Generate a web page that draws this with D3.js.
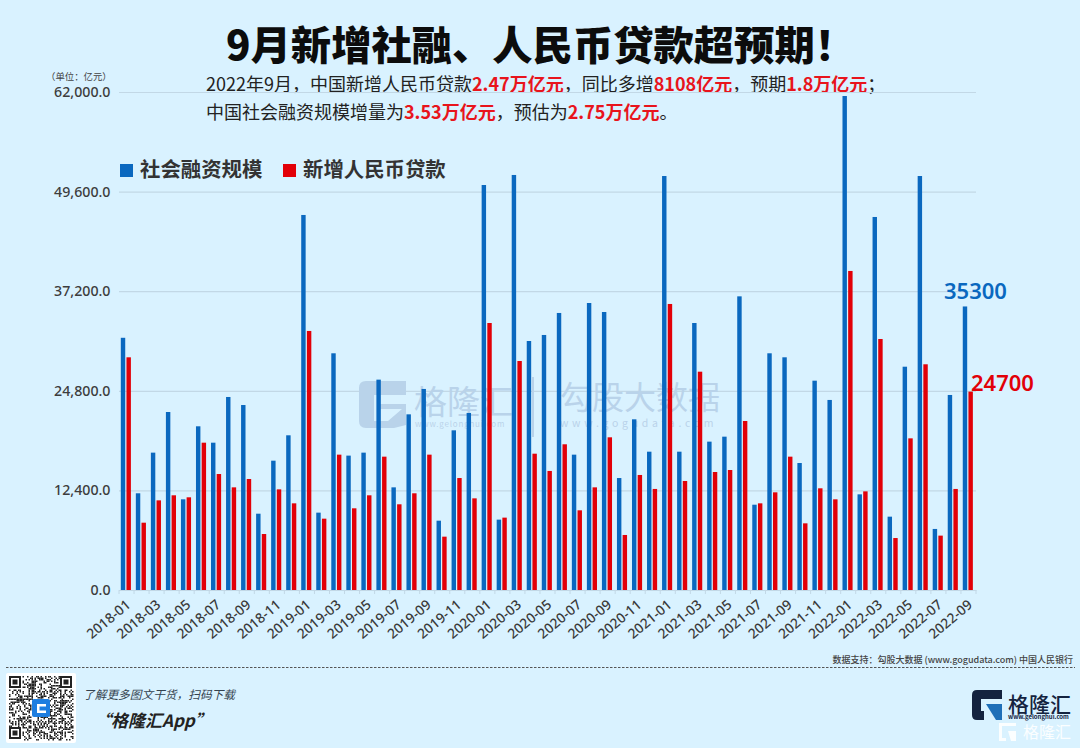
<!DOCTYPE html>
<html>
<head>
<meta charset="utf-8">
<script src="https://cdn.jsdelivr.net/npm/d3@7"></script>
<style>
html, body { margin: 0; padding: 0; background: #d9f2ff; }
svg { display: block; }
text { font-family: "Noto Sans CJK SC", "Noto Sans", sans-serif; }
.num text, text.num { font-family: "Noto Sans", "Noto Sans CJK SC", sans-serif; }
</style>
</head>
<body>
<svg id="chart" width="1080" height="748"></svg>
<script>
"use strict"

const months = [
    "2018-01","2018-02","2018-03","2018-04","2018-05","2018-06","2018-07","2018-08","2018-09","2018-10","2018-11","2018-12",
    "2019-01","2019-02","2019-03","2019-04","2019-05","2019-06","2019-07","2019-08","2019-09","2019-10","2019-11","2019-12",
    "2020-01","2020-02","2020-03","2020-04","2020-05","2020-06","2020-07","2020-08","2020-09","2020-10","2020-11","2020-12",
    "2021-01","2021-02","2021-03","2021-04","2021-05","2021-06","2021-07","2021-08","2021-09","2021-10","2021-11","2021-12",
    "2022-01","2022-02","2022-03","2022-04","2022-05","2022-06","2022-07","2022-08","2022-09"
]
const socialFinancing = [
    31400, 12040, 17100, 22160, 11290, 20380, 18340, 24030, 23030, 9500, 16100, 19260,
    46690, 9630, 29470, 16730, 17100, 26190, 12780, 21870, 25030, 8630, 19880, 22040,
    50420, 8760, 51670, 31000, 31750, 34490, 16850, 35730, 34610, 13940, 21250, 17220,
    51540, 17220, 33240, 18470, 19090, 36560, 10620, 29470, 28970, 15810, 26060, 23660,
    61500, 11910, 46440, 9130, 27800, 51540, 7600, 24280, 35300
]
const newLoans = [
    28970, 8380, 11160, 11790, 11540, 18340, 14440, 12780, 13820, 6970, 12530, 10790,
    32250, 8880, 16850, 10170, 11790, 16600, 10670, 12040, 16850, 6640, 13940, 11410,
    33240, 9010, 28510, 16970, 14820, 18140, 9920, 12780, 19010, 6850, 14320, 12580,
    35610, 13570, 27180, 14690, 14940, 21040, 10790, 12160, 16600, 8300, 12660, 11290,
    39720, 12280, 31250, 6470, 18880, 28100, 6770, 12580, 24700
]
const seriesNames = ["社会融资规模", "新增人民币贷款"]
const seriesColors = ["#0a68bf", "#e20008"]
const yTicks = [0, 12400, 24800, 37200, 49600, 62000]
const subtitleLines = [
    [["2022年9月，中国新增人民币贷款", 0], ["2.47万亿元", 1], ["，同比多增", 0], ["8108亿元", 1], ["，预期", 0], ["1.8万亿元", 1], ["；", 0]],
    [["中国社会融资规模增量为", 0], ["3.53万亿元", 1], ["，预估为", 0], ["2.75万亿元", 1], ["。", 0]]
]

const svg = d3.select("#chart")
svg.append("rect").attr("width", 1080).attr("height", 748).attr("fill", "#d9f2ff")

const x = d3.scaleBand().domain(months).range([119, 976])
const xSeries = d3.scaleBand().domain(seriesNames).range([1.8, 11.9]).paddingInner(0.22)
const y = d3.scaleLinear().domain([0, 62000]).range([590, 92])

// title and subtitle
svg.append("text")
    .attr("x", 226).attr("y", 60)
    .attr("font-size", 40.3).attr("font-weight", 900).attr("fill", "#0c0c0c")
    .text("9月新增社融、人民币贷款超预期！")

svg.selectAll("text.sub")
    .data(subtitleLines)
    .join("text")
        .classed("sub", true)
        .attr("x", 206)
        .attr("y", (d, i) => 91 + i * 28)
        .attr("font-size", 18)
        .selectAll("tspan")
        .data(d => d)
        .join("tspan")
            .attr("fill", d => d[1] ? "#e8141c" : "#222")
            .attr("font-weight", d => d[1] ? 700 : 400)
            .text(d => d[0])

svg.append("text")
    .attr("x", 46).attr("y", 80)
    .attr("font-size", 9.4).attr("fill", "#444")
    .text("（单位：亿元）")

// y axis with gridlines
const yAxis = svg.append("g")
    .classed("num", true)
    .attr("transform", "translate(119,0)")
    .call(d3.axisLeft(y).tickValues(yTicks).tickFormat(d3.format(",.1f")).tickSize(-857).tickPadding(8.5))
yAxis.select(".domain").remove()
yAxis.selectAll(".tick line").attr("stroke", "#c2d8e6").attr("stroke-width", 1.2)
yAxis.selectAll(".tick text")
    .attr("font-size", 14.2).attr("font-weight", 500).attr("fill", "#3d3d3d")

// watermark
const marks = svg.append("g").attr("fill", "#b9d3ea")
marks.append("path")
    .attr("d", "M366 381 H406 V395 H374 V421 H388 L402 409 H378 V404 H406 V425 L394 428 H366 Q359 428 359 421 V388 Q359 381 366 381 Z")
marks.append("text").attr("x", 414).attr("y", 414).attr("font-size", 33).text("格隆汇")
marks.append("text").attr("x", 415).attr("y", 427).attr("font-size", 8).attr("letter-spacing", 0.8).text("www.gelonghui.com")
marks.append("rect").attr("x", 532).attr("y", 377).attr("width", 2).attr("height", 60)
marks.append("text").attr("x", 560).attr("y", 409).attr("font-size", 32).text("勾股大数据")
marks.append("text").attr("x", 560).attr("y", 427).attr("font-size", 10.5).attr("letter-spacing", 3.7).text("www.gogudata.com")

// bars
const seriesValues = [socialFinancing, newLoans]
svg.selectAll("g.series")
    .data(seriesNames)
    .join("g")
        .classed("series", true)
        .attr("fill", (d, i) => seriesColors[i])
        .each(function(name, s) {
            d3.select(this).selectAll("rect")
                .data(seriesValues[s])
                .join("rect")
                    .attr("x", (d, i) => x(months[i]) + xSeries(name))
                    .attr("width", xSeries.bandwidth())
                    .attr("y", d => y(d))
                    .attr("height", d => y(0) - y(d))
        })

// x axis, tick marks sit on the band edges
const xAxis = svg.append("g")
    .classed("num", true)
    .attr("transform", "translate(0,590)")
    .call(d3.axisBottom(x).tickValues(months.filter((d, i) => i % 2 === 0)).tickSize(0))
xAxis.select(".domain").attr("stroke", "#c2d8e6").attr("stroke-width", 1.2)
xAxis.selectAll(".tick text")
    .attr("font-size", 13.8).attr("font-weight", 500).attr("fill", "#3a3a3a")
    .attr("text-anchor", "end")
    .attr("dx", 0).attr("dy", 0)
    .attr("transform", "translate(3,14) rotate(-40)")
xAxis.selectAll("line.edge")
    .data(months.concat(["end"]))
    .join("line")
        .classed("edge", true)
        .attr("x1", d => d === "end" ? 976 : x(d))
        .attr("x2", d => d === "end" ? 976 : x(d))
        .attr("y1", 0).attr("y2", 4)
        .attr("stroke", "#c2d8e6")

// legend
const legend = svg.append("g")
legend.selectAll("rect")
    .data(seriesNames)
    .join("rect")
        .attr("x", (d, i) => [120, 283][i])
        .attr("y", 164)
        .attr("width", 13).attr("height", 13)
        .attr("fill", (d, i) => seriesColors[i])
legend.selectAll("text")
    .data(seriesNames)
    .join("text")
        .attr("x", (d, i) => [140, 303][i])
        .attr("y", 177)
        .attr("font-size", 20.4).attr("font-weight", 700).attr("fill", "#333")
        .text(d => d)

// last value labels
svg.append("text").classed("num", true)
    .attr("x", 944).attr("y", 299)
    .attr("font-size", 22).attr("font-weight", 600).attr("fill", seriesColors[0])
    .text(socialFinancing[socialFinancing.length - 1])
svg.append("text").classed("num", true)
    .attr("x", 971).attr("y", 391)
    .attr("font-size", 22).attr("font-weight", 600).attr("fill", seriesColors[1])
    .text(newLoans[newLoans.length - 1])

// footer
svg.append("text")
    .attr("x", 1073).attr("y", 663)
    .attr("text-anchor", "end")
    .attr("font-size", 9).attr("font-weight", 500).attr("fill", "#444")
    .text("数据支持：勾股大数据  (www.gogudata.com) 中国人民银行")
svg.append("line")
    .attr("x1", 6).attr("x2", 1075).attr("y1", 667.5).attr("y2", 667.5)
    .attr("stroke", "#555").attr("stroke-dasharray", "2.5,1.5")

// QR code block, purely decorative
const qr = svg.append("g").attr("transform", "translate(6,673)")
qr.append("rect").attr("width", 70).attr("height", 70).attr("rx", 2).attr("fill", "#fff")
const qrSize = 43
const qrCell = 1.5
const qrCells = d3.range(qrSize * qrSize).filter(k => {
    const r = Math.floor(k / qrSize), c = k % qrSize
    if ((r < 9 && c < 9) || (r < 9 && c >= qrSize - 9) || (r >= qrSize - 9 && c < 9)) return false
    return ((r * 7 + c * 13 + (r * c) % 5 + (r ^ c)) % 3) === 0 || ((r * r + c * 3) % 7) === 1
})
qr.append("g").attr("transform", "translate(3,3)")
    .selectAll("rect")
    .data(qrCells)
    .join("rect")
        .attr("x", k => (k % qrSize) * qrCell)
        .attr("y", k => Math.floor(k / qrSize) * qrCell)
        .attr("width", qrCell).attr("height", qrCell)
        .attr("fill", "#222")
qr.append("g").selectAll("rect")
    .data([[3, 3], [54, 3], [3, 54]])
    .join("rect")
        .attr("x", d => d[0] + 1).attr("y", d => d[1] + 1)
        .attr("width", 10).attr("height", 10)
        .attr("fill", "#fff").attr("stroke", "#222").attr("stroke-width", 2)
qr.selectAll("rect.dot")
    .data([[3, 3], [54, 3], [3, 54]])
    .join("rect")
        .classed("dot", true)
        .attr("x", d => d[0] + 3.5).attr("y", d => d[1] + 3.5)
        .attr("width", 5).attr("height", 5)
        .attr("fill", "#222")
qr.append("rect").attr("x", 26).attr("y", 26).attr("width", 18).attr("height", 18).attr("rx", 2).attr("fill", "#1e7ee0")
qr.append("path")
    .attr("d", "M31 31 H40 V33.5 H33.5 V37.5 H40 V40 H31 Z")
    .attr("fill", "#fff")

svg.append("text")
    .attr("x", 83).attr("y", 699)
    .attr("font-size", 11.7).attr("font-style", "italic").attr("fill", "#33424f")
    .text("了解更多图文干货，扫码下载")
svg.append("text")
    .attr("x", 94).attr("y", 727)
    .attr("font-size", 17).attr("font-weight", 700).attr("font-style", "italic").attr("fill", "#222")
    .text("“格隆汇App”")

// logo bottom right
const logo = svg.append("g").attr("transform", "translate(972,690)")
logo.append("path")
    .attr("d", "M5 0 H30 V9 H9 V21 H12 L12 30 H5 Q0 30 0 25 V5 Q0 0 5 0 Z")
    .attr("fill", "#14233f")
logo.append("path")
    .attr("d", "M14 14 H30 V30 H24 Z")
    .attr("fill", "#1e6fb8")
logo.append("text").attr("x", 36).attr("y", 22).attr("font-size", 21).attr("font-weight", 500).attr("fill", "#14233f").text("格隆汇")
logo.append("text").attr("x", 36).attr("y", 29).attr("font-size", 6).attr("font-weight", 700).attr("fill", "#14233f").text("www.gelonghui.com")

const logoGhost = svg.append("g").attr("transform", "translate(999,723)")
logoGhost.append("path")
    .attr("d", "M0 0 H17 V3 H3 V15 H7 V18 H0 Z M9 8 H17 V18 H12 Z")
    .attr("fill", "#fbfeff")
logoGhost.append("text").attr("x", 24).attr("y", 15).attr("font-size", 16).attr("fill", "#fbfeff").text("格隆汇")
</script>
</body>
</html>
